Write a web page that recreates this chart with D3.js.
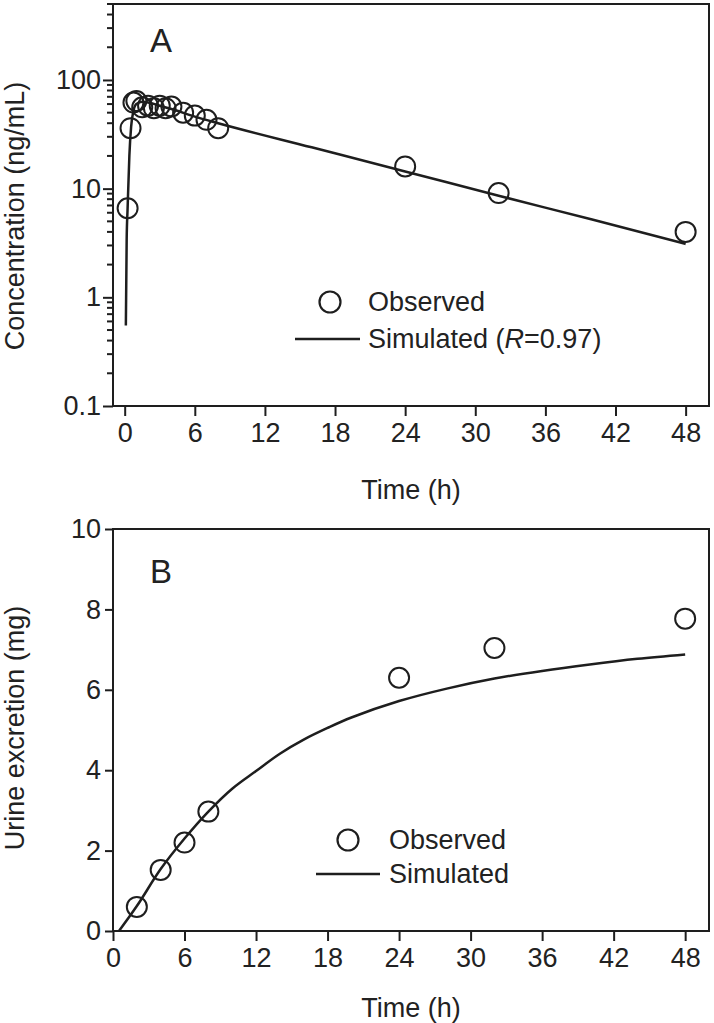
<!DOCTYPE html>
<html>
<head>
<meta charset="utf-8">
<script src="https://cdn.jsdelivr.net/npm/d3@7"></script>
<style>
  html, body { margin: 0; padding: 0; background: #fff; }
  svg { display: block; }
  text { font-family: "Liberation Sans", Arial, sans-serif; fill: #222; }
</style>
</head>
<body>
<svg id="chart" width="714" height="1023"></svg>
<script>
// ---------- Panel A data: plasma concentration ----------
const concObsTime = [0.25, 0.5, 0.75, 1, 1.5, 2, 2.5, 3, 3.5, 4, 5, 6, 7, 8, 24, 32, 48];
const concObsValue = [6.6, 36, 62, 64, 56, 58, 55, 58, 55, 57, 50, 47, 43, 36, 16, 9.1, 4.0];
const concSimTime = [0.1, 0.17, 0.25, 0.4, 0.55, 0.75, 1, 1.5, 2, 3, 4, 6, 8, 16, 24, 32, 40, 48];
const concSimValue = [0.55, 3.4, 6.6, 20, 37, 52, 60, 63, 62, 58, 54, 46, 40, 24, 14.4, 8.6, 5.2, 3.1];
const concYTicks = [0.1, 1, 10, 100];
const concYTickLabels = ["0.1", "1", "10", "100"];
const concYMinor = [0.2,0.3,0.4,0.5,0.6,0.7,0.8,0.9,2,3,4,5,6,7,8,9,20,30,40,50,60,70,80,90,200,300,400,500];

// ---------- Panel B data: cumulative urine excretion ----------
const urineObsTime = [2, 4, 6, 8, 24, 32, 48];
const urineObsValue = [0.6, 1.52, 2.2, 2.97, 6.3, 7.04, 7.77];
const urineSimTime = [0.5, 2, 4, 6, 8, 10, 12, 14, 16, 18, 20, 24, 28, 32, 36, 40, 44, 48];
const urineSimValue = [0, 0.62, 1.54, 2.3, 2.97, 3.54, 3.98, 4.41, 4.76, 5.05, 5.31, 5.72, 6.03, 6.28, 6.47, 6.63, 6.77, 6.88];
const urineYTicks = [0, 2, 4, 6, 8, 10];

const timeTicks = [0, 6, 12, 18, 24, 30, 36, 42, 48];

const svg = d3.select("#chart");
const ink = "#1e1e1e";
const FS = 27;      // tick labels
const FL = 27;      // legend and titles

function frame(x, y) {
  const [x0, x1] = x.range();
  const [y0, y1] = y.range();
  svg.append("rect")
    .attr("x", x0).attr("y", Math.min(y0, y1))
    .attr("width", x1 - x0).attr("height", Math.abs(y0 - y1))
    .attr("fill", "none").attr("stroke", ink).attr("stroke-width", 2);
}

function xAxis(x, yPos, labelY) {
  const g = svg.append("g").attr("transform", `translate(0,${yPos})`)
    .call(d3.axisBottom(x).tickValues(timeTicks).tickSize(10).tickPadding(7).tickFormat(d3.format("d")));
  g.select(".domain").remove();
  g.selectAll(".tick line").attr("stroke", ink).attr("stroke-width", 2);
  g.selectAll(".tick text").attr("font-size", FS).attr("font-family", "Liberation Sans, Arial, sans-serif").attr("fill", "#222");
  svg.append("text").attr("x", (x.range()[0] + x.range()[1]) / 2).attr("y", labelY)
    .attr("text-anchor", "middle").attr("font-size", FL).text("Time (h)");
}

function styleY(g) {
  g.select(".domain").remove();
  g.selectAll(".tick line").attr("stroke", ink).attr("stroke-width", 2);
  g.selectAll(".tick text").attr("font-size", FS).attr("font-family", "Liberation Sans, Arial, sans-serif").attr("fill", "#222");
}

function legend(cx, cy, lineY, lineX0, lineX1, textX, simLabel) {
  svg.append("circle").attr("cx", cx).attr("cy", cy).attr("r", 10.5)
    .attr("fill", "none").attr("stroke", ink).attr("stroke-width", 2.2);
  svg.append("text").attr("x", textX).attr("y", cy).attr("dy", "0.35em")
    .attr("font-size", FL).text("Observed");
  svg.append("line").attr("x1", lineX0).attr("x2", lineX1).attr("y1", lineY).attr("y2", lineY)
    .attr("stroke", ink).attr("stroke-width", 2.5);
  const t = svg.append("text").attr("x", textX).attr("y", lineY).attr("dy", "0.35em").attr("font-size", FL);
  simLabel(t);
}

// ================= Panel A =================
const xA = d3.scaleLinear().domain([-1, 50]).range([113, 709]);
const yA = d3.scaleLog().domain([0.1, 500]).range([406, 4]);

frame(xA, yA);

svg.append("g").selectAll("line").data(concYMinor).join("line")
  .attr("x1", 113).attr("x2", 107)
  .attr("y1", d => yA(d)).attr("y2", d => yA(d))
  .attr("stroke", ink).attr("stroke-width", 2);

const gyA = svg.append("g").attr("transform", "translate(113,0)")
  .call(d3.axisLeft(yA).tickValues(concYTicks).tickSize(10).tickPadding(2)
    .tickFormat((d, i) => concYTickLabels[i]));
styleY(gyA);

xAxis(xA, 406, 499);

svg.append("text").attr("transform", "translate(24,216) rotate(-90)")
  .attr("text-anchor", "middle").attr("font-size", FL).text("Concentration (ng/mL)");

svg.append("text").attr("x", 150).attr("y", 52).attr("font-size", 33).text("A");

const lineA = d3.line().x(d => xA(d[0])).y(d => yA(d[1])).curve(d3.curveMonotoneX);
svg.append("path").datum(concSimTime.map((t, i) => [t, concSimValue[i]]))
  .attr("d", lineA).attr("fill", "none").attr("stroke", ink).attr("stroke-width", 2.5);

svg.append("g").selectAll("circle").data(concObsTime.map((t, i) => [t, concObsValue[i]])).join("circle")
  .attr("cx", d => xA(d[0])).attr("cy", d => yA(d[1])).attr("r", 10)
  .attr("fill", "none").attr("stroke", ink).attr("stroke-width", 2);

legend(330, 302, 339, 295, 360, 368, t => {
  t.append("tspan").text("Simulated (");
  t.append("tspan").attr("font-style", "italic").text("R");
  t.append("tspan").text("=0.97)");
});

// ================= Panel B =================
const xB = d3.scaleLinear().domain([0, 50]).range([113, 709]);
const yB = d3.scaleLinear().domain([0, 10]).range([931, 529]);

frame(xB, yB);

const gyB = svg.append("g").attr("transform", "translate(113,0)")
  .call(d3.axisLeft(yB).tickValues(urineYTicks).tickSize(8).tickPadding(4).tickFormat(d3.format("d")));
styleY(gyB);

xAxis(xB, 931, 1017);

svg.append("text").attr("transform", "translate(24,728) rotate(-90)")
  .attr("text-anchor", "middle").attr("font-size", FL).text("Urine excretion (mg)");

svg.append("text").attr("x", 150).attr("y", 583).attr("font-size", 33).text("B");

const lineB = d3.line().x(d => xB(d[0])).y(d => yB(d[1])).curve(d3.curveCatmullRom.alpha(0.5));
svg.append("path").datum(urineSimTime.map((t, i) => [t, urineSimValue[i]]))
  .attr("d", lineB).attr("fill", "none").attr("stroke", ink).attr("stroke-width", 2.5);

svg.append("g").selectAll("circle").data(urineObsTime.map((t, i) => [t, urineObsValue[i]])).join("circle")
  .attr("cx", d => xB(d[0])).attr("cy", d => yB(d[1])).attr("r", 10)
  .attr("fill", "none").attr("stroke", ink).attr("stroke-width", 2);

legend(348, 840, 874, 316, 380, 389, t => t.text("Simulated"));
</script>
</body>
</html>
